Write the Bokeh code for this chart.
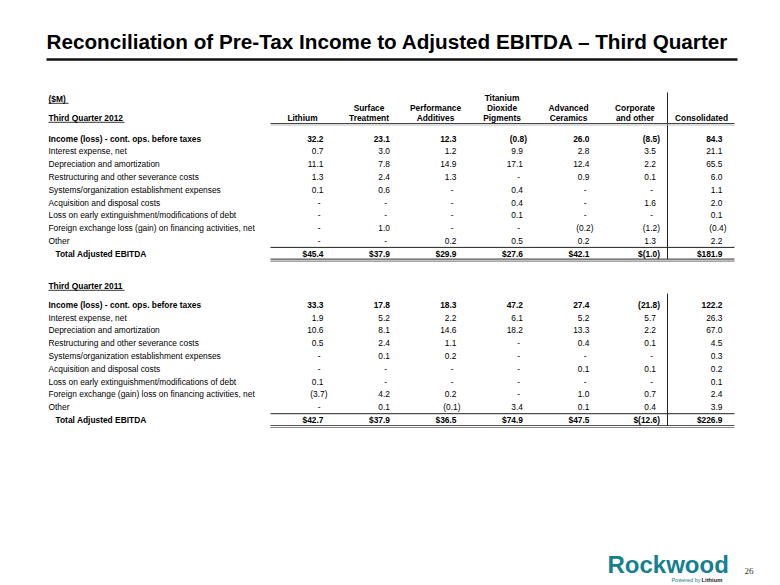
from bokeh.plotting import figure
from bokeh.models import Range1d, ColumnDataSource
from bokeh.core.properties import value
from bokeh.embed import file_html
from bokeh.resources import INLINE

# ---------------- data ----------------
title = "Reconciliation of Pre-Tax Income to Adjusted EBITDA \u2013 Third Quarter"
unit_label = "($M)"
section_titles = ["Third Quarter 2012", "Third Quarter 2011"]
columns = [["Lithium"], ["Surface", "Treatment"], ["Performance", "Additives"],
           ["Titanium", "Dioxide", "Pigments"], ["Advanced", "Ceramics"],
           ["Corporate", "and other"], ["Consolidated"]]

rows_2012 = ["Income (loss) - cont. ops. before taxes", "Interest expense, net",
             "Depreciation and amortization", "Restructuring and other severance costs",
             "Systems/organization establishment expenses", "Acquisition and disposal costs",
             "Loss on early extinguishment/modifications of debt",
             "Foreign exchange loss (gain) on financing activities, net", "Other",
             "Total Adjusted EBITDA"]
rows_2011 = ["Income (loss) - cont. ops. before taxes", "Interest expense, net",
             "Depreciation and amortization", "Restructuring and other severance costs",
             "Systems/organization establishment expenses", "Acquisition and disposal costs",
             "Loss on early extinguishment/modifications of debt",
             "Foreign exchange (gain) loss on financing activities, net", "Other",
             "Total Adjusted EBITDA"]

# values per column (None = dash)
lithium_2012 = [32.2, 0.7, 11.1, 1.3, 0.1, None, None, None, None, 45.4]
surface_2012 = [23.1, 3.0, 7.8, 2.4, 0.6, None, None, 1.0, None, 37.9]
perform_2012 = [12.3, 1.2, 14.9, 1.3, None, None, None, None, 0.2, 29.9]
tio2_2012 = [-0.8, 9.9, 17.1, None, 0.4, 0.4, 0.1, None, 0.5, 27.6]
ceramics_2012 = [26.0, 2.8, 12.4, 0.9, None, None, None, -0.2, 0.2, 42.1]
corporate_2012 = [-8.5, 3.5, 2.2, 0.1, None, 1.6, None, -1.2, 1.3, -1.0]
consol_2012 = [84.3, 21.1, 65.5, 6.0, 1.1, 2.0, 0.1, -0.4, 2.2, 181.9]

lithium_2011 = [33.3, 1.9, 10.6, 0.5, None, None, 0.1, -3.7, None, 42.7]
surface_2011 = [17.8, 5.2, 8.1, 2.4, 0.1, None, None, 4.2, 0.1, 37.9]
perform_2011 = [18.3, 2.2, 14.6, 1.1, 0.2, None, None, 0.2, -0.1, 36.5]
tio2_2011 = [47.2, 6.1, 18.2, None, None, None, None, None, 3.4, 74.9]
ceramics_2011 = [27.4, 5.2, 13.3, 0.4, None, 0.1, None, 1.0, 0.1, 47.5]
corporate_2011 = [-21.8, 5.7, 2.2, 0.1, None, 0.1, None, 0.7, 0.4, -12.6]
consol_2011 = [122.2, 26.3, 67.0, 4.5, 0.3, 0.2, 0.1, 2.4, 3.9, 226.9]

sections = [
    (section_titles[0], rows_2012, [lithium_2012, surface_2012, perform_2012, tio2_2012,
                                    ceramics_2012, corporate_2012, consol_2012]),
    (section_titles[1], rows_2011, [lithium_2011, surface_2011, perform_2011, tio2_2011,
                                    ceramics_2011, corporate_2011, consol_2011]),
]

# ---------------- layout ----------------
FONT = value("Liberation Sans")
FS = "8.4px"
W, H = 780, 585
p = figure(width=W, height=H, output_backend="svg", toolbar_location=None,
           x_range=Range1d(0, W), y_range=Range1d(H, 0), min_border=0)
p.axis.visible = False
p.grid.visible = False
p.outline_line_color = None
p.background_fill_color = "white"

def txt(xs, ys, ts, align="left", bold=False, size=FS, font=FONT, color="black", baseline="middle"):
    src = ColumnDataSource(dict(x=xs, y=ys, t=ts))
    p.text("x", "y", "t", source=src, text_align=align, text_baseline=baseline,
           text_font_size=size, text_font=font, text_color=color,
           text_font_style="bold" if bold else "normal")

def hline(x0, x1, y, w=1, c="black"):
    p.segment(x0=[x0], y0=[y], x1=[x1], y1=[y], line_width=w, line_color=c)

# title
txt([46], [41], [title], bold=True, size="20.7px")
hline(46, 737, 59, w=2.5, c="#111111")

LABEL_X = 48
TOTAL_X = 55
COL_R0, COL_STEP = 323, 66.5
col_r = [COL_R0 + i * COL_STEP for i in range(len(columns))]
TABLE_L, TABLE_R = 270, 734
VLINE_X = 667
ROW_STEP = 12.8

# unit label
txt([LABEL_X], [98], [unit_label], bold=True)
hline(LABEL_X, LABEL_X + 20, 102.8, w=0.8)

# column headers
hx, hy, ht = [], [], []
for i, lines in enumerate(columns):
    n = len(lines)
    for k, line in enumerate(lines):
        hx.append(col_r[i] - 21)
        hy.append(117 - (n - 1 - k) * 9.9)
        ht.append(line)
txt(hx, hy, ht, align="center", bold=True)

def fmt(v, total):
    if v is None:
        return "-"
    s = f"{abs(v):.1f}"
    if v < 0:
        s = f"({s})"
    return "$" + s if total else s

section_tops = [117, 285]
first_rows = [138, 304.3]
for (stitle, labels, cols), ytop, yr0 in zip(sections, section_tops, first_rows):
    txt([LABEL_X], [ytop], [stitle], bold=True)
    hline(LABEL_X, LABEL_X + 76, ytop + 4.8, w=0.8)
    ys = [yr0 + i * ROW_STEP for i in range(len(labels))]
    n = len(labels)
    # labels
    txt([LABEL_X], [ys[0]], [labels[0]], bold=True)
    txt([LABEL_X] * (n - 2), ys[1:n - 1], labels[1:n - 1])
    txt([TOTAL_X], [ys[-1]], [labels[-1]], bold=True)
    # values
    for ci, vals in enumerate(cols):
        R = col_r[ci]
        for ri, v in enumerate(vals):
            total = ri == n - 1
            bold = ri == 0 or total
            if v is None:
                x = R - 3
            elif v < 0:
                x = R + 4
            else:
                x = R
            txt([x], [ys[ri]], [fmt(v, total)], align="right", bold=bold)
    # rules
    hline(TABLE_L, TABLE_R, ys[-1] - 6.3, w=1, c="#222222")
    hline(TABLE_L, TABLE_R, ys[-1] + 5.5, w=1.2, c="#555555")
    hline(TABLE_L, TABLE_R, ys[-1] + 7.5, w=1.2, c="#888888")
    vtop = 92 if ytop == 117 else 293
    p.segment(x0=[VLINE_X], y0=[vtop], x1=[VLINE_X], y1=[ys[-1] + 5.5],
              line_width=1, line_color="#222222")

# header underline (first section only)
hline(TABLE_L, TABLE_R, 123, w=1.2, c="#444444")
hline(TABLE_L, TABLE_R, 124.5, w=0.8, c="#aaaaaa")

# logo
txt([607], [564], ["Rockwood"], bold=True, size="24px", color="#17808f")
txt([700], [579], ["Powered by"], size="5.5px", color="#17808f", align="right")
txt([701], [579], ["Lithium"], bold=True, size="5.8px", color="#222222")
txt([744], [570], ["26"], size="9px", font=value("Liberation Serif"), color="#333333")

open("out.html", "w").write(file_html(p, INLINE))
